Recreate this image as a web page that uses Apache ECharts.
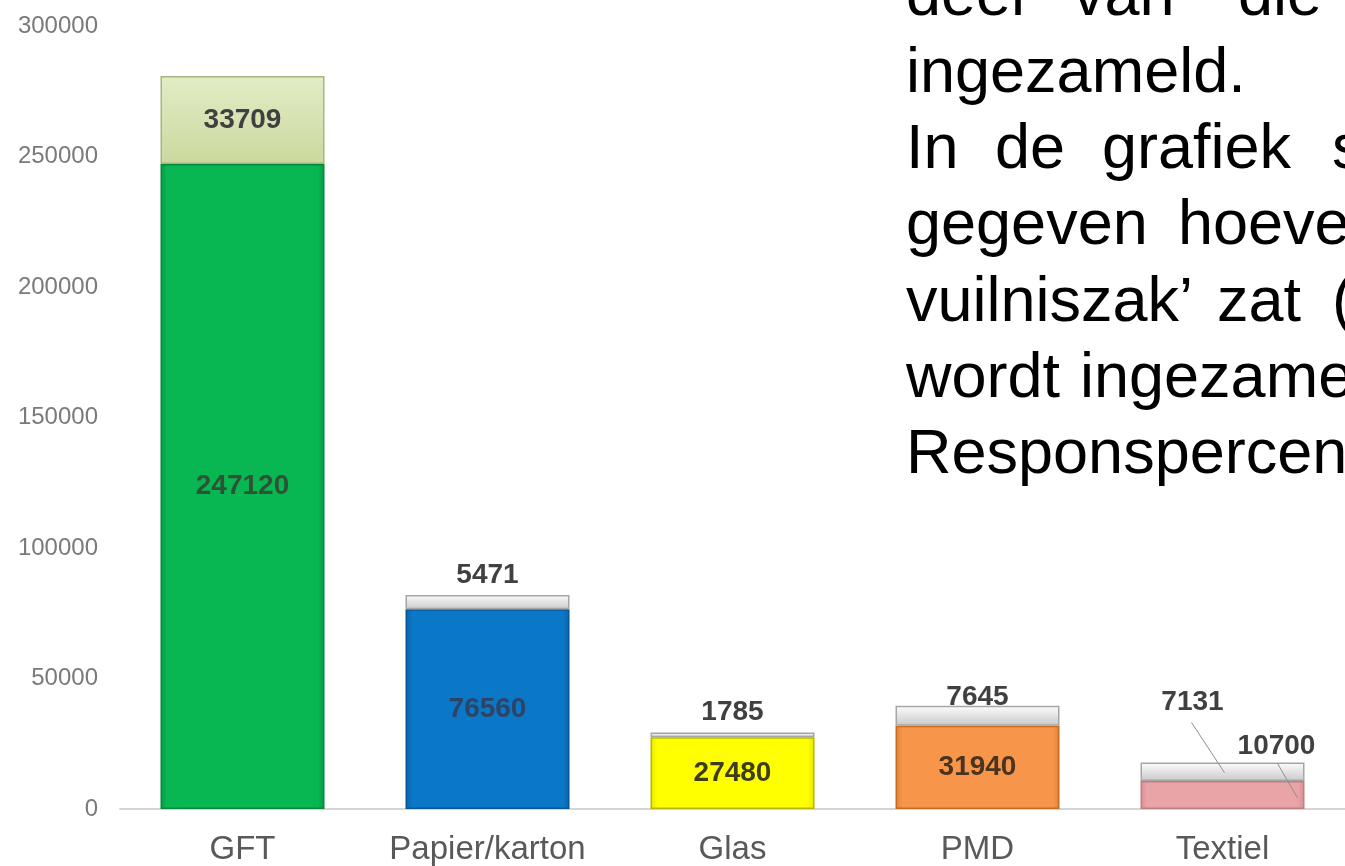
<!DOCTYPE html>
<html>
<head>
<meta charset="utf-8">
<title>Ingezameld afval</title>
<script src="https://cdn.jsdelivr.net/npm/echarts@6/dist/echarts.min.js"></script>
<style>
  html, body { margin: 0; padding: 0; background: #fff; }
  #chart { width: 1345px; height: 866px; }
</style>
</head>
<body>
<div id="chart"></div>
<script>
// data
const categories = ['GFT', 'Papier/karton', 'Glas', 'PMD', 'Textiel'];
const collected = [247120, 76560, 27480, 31940, 10700];
const inBag = [33709, 5471, 1785, 7645, 7131];
const yTicks = [0, 50000, 100000, 150000, 200000, 250000, 300000];

// text block on the right (cut off by the slide edge)
const paragraph = [
  ['deel', 'van', 'die'],
  ['ingezameld.'],
  ['In', 'de', 'grafiek', 's'],
  ['gegeven', 'hoeve'],
  ['vuilniszak’', 'zat', '('],
  ['wordt', 'ingezame'],
  ['Responspercen']
];
const wordX = [
  [906, 1073, 1238],
  [906],
  [906, 995, 1102, 1332],
  [906, 1178],
  [906, 1217, 1332],
  [906, 1080],
  [906]
];

// styles
const baseColors = ['#08b752', '#0b77c7', '#ffff00', '#f7964a', '#e8a4a6'];
const baseEdges = ['#069a45', '#0863a8', '#e6e600', '#e0822f', '#d68e92'];
const baseBorders = ['#06873c', '#06579a', '#b8b800', '#c56b22', '#bf7e82'];
const baseLabelColors = ['#2f5236', '#2e4466', '#3d3d1a', '#4a3420', '#404040'];
const topFrom = ['#e2ecc6', '#fdfdfd', '#fdfdfd', '#fdfdfd', '#fdfdfd'];
const topTo = ['#cbd99e', '#c9c9c9', '#c9c9c9', '#c9c9c9', '#c9c9c9'];
const topBorders = ['#a8b67c', '#a6a6a6', '#a6a6a6', '#a6a6a6', '#a6a6a6'];

const font = '"Liberation Sans", Arial, sans-serif';
const TEXTIEL = 4;

const chart = echarts.init(document.getElementById('chart'));

// side-bevel look: darker at the left and right edge
function sideGradient(edge, mid) {
  return new echarts.graphic.LinearGradient(0, 0, 1, 0, [
    { offset: 0, color: edge },
    { offset: 0.04, color: mid },
    { offset: 0.96, color: mid },
    { offset: 1, color: edge }
  ]);
}

const baseData = collected.map((v, i) => ({
  value: v,
  itemStyle: { color: sideGradient(baseEdges[i], baseColors[i]), borderColor: baseBorders[i], borderWidth: 1.5 },
  label: { color: baseLabelColors[i] }
}));

const topData = inBag.map((v, i) => ({
  value: v,
  itemStyle: {
    color: new echarts.graphic.LinearGradient(0, 0, 0, 1, [
      { offset: 0, color: topFrom[i] },
      { offset: 1, color: topTo[i] }
    ]),
    borderColor: topBorders[i],
    borderWidth: 1.5
  },
  label: i === 0 ? { position: 'inside' } : (i === 3 ? { position: 'top', distance: -6 } : { position: 'top', distance: 6 })
}));

const graphicTexts = [];
paragraph.forEach((words, li) => {
  words.forEach((w, wi) => {
    graphicTexts.push({
      type: 'text',
      x: wordX[li][wi],
      y: -2 + li * 76.3,
      silent: true,
      style: {
        text: w,
        fill: '#000',
        font: '63px ' + font,
        verticalAlign: 'middle',
        align: 'left'
      }
    });
  });
});

const labelStyle = { show: true, fontSize: 28, fontWeight: 'bold', fontFamily: font };

const option = {
  backgroundColor: '#fff',
  animation: false,
  grid: { left: 120, top: 26, width: 1235, height: 783, containLabel: false },
  xAxis: {
    type: 'category',
    data: categories,
    axisLine: { lineStyle: { color: '#d4d4d4', width: 2 } },
    axisTick: { show: false },
    axisLabel: { color: '#595959', fontSize: 33, fontFamily: font, margin: 24, interval: 0 }
  },
  yAxis: {
    type: 'value',
    min: yTicks[0],
    max: yTicks[yTicks.length - 1],
    interval: yTicks[1] - yTicks[0],
    axisLine: { show: false },
    axisTick: { show: false },
    splitLine: { show: false },
    axisLabel: { color: '#7a7a7a', fontSize: 24, fontFamily: font, margin: 22, formatter: (v) => String(v) }
  },
  series: [
    {
      name: 'ingezameld',
      type: 'bar',
      stack: 'afval',
      barWidth: 164,
      data: baseData,
      label: Object.assign({ position: 'inside' }, labelStyle),
      labelLine: { show: false },
      labelLayout: (p) => p.dataIndex === TEXTIEL ? { dx: 54, dy: -49 } : {}
    },
    {
      name: 'in vuilniszak',
      type: 'bar',
      stack: 'afval',
      barWidth: 164,
      data: topData,
      label: Object.assign({ color: '#404040' }, labelStyle),
      labelLine: { show: false },
      labelLayout: (p) => p.dataIndex === TEXTIEL ? { dx: -30, dy: -40 } : {}
    }
  ],
  graphic: graphicTexts
};

chart.setOption(option);

// leader lines for the Textiel labels, anchored through the axes
const toPx = (v) => chart.convertToPixel({ xAxisIndex: 0, yAxisIndex: 0 }, [categories[TEXTIEL], v]);
const pTopEnd = toPx(collected[TEXTIEL] + inBag[TEXTIEL] * 0.45);
const pTotal = toPx(collected[TEXTIEL] + inBag[TEXTIEL]);
const pBaseEnd = toPx(collected[TEXTIEL] * 0.4);
const leader = { stroke: '#8f8f8f', lineWidth: 1 };
chart.setOption({
  graphic: graphicTexts.concat([
    { type: 'line', silent: true, z: 100, style: leader,
      shape: { x1: pTotal[0] - 31, y1: pTotal[1] - 40, x2: pTopEnd[0] + 2, y2: pTopEnd[1] } },
    { type: 'line', silent: true, z: 100, style: leader,
      shape: { x1: pTotal[0] + 55, y1: pTotal[1] + 1, x2: pBaseEnd[0] + 75, y2: pBaseEnd[1] } }
  ])
});
</script>
</body>
</html>
